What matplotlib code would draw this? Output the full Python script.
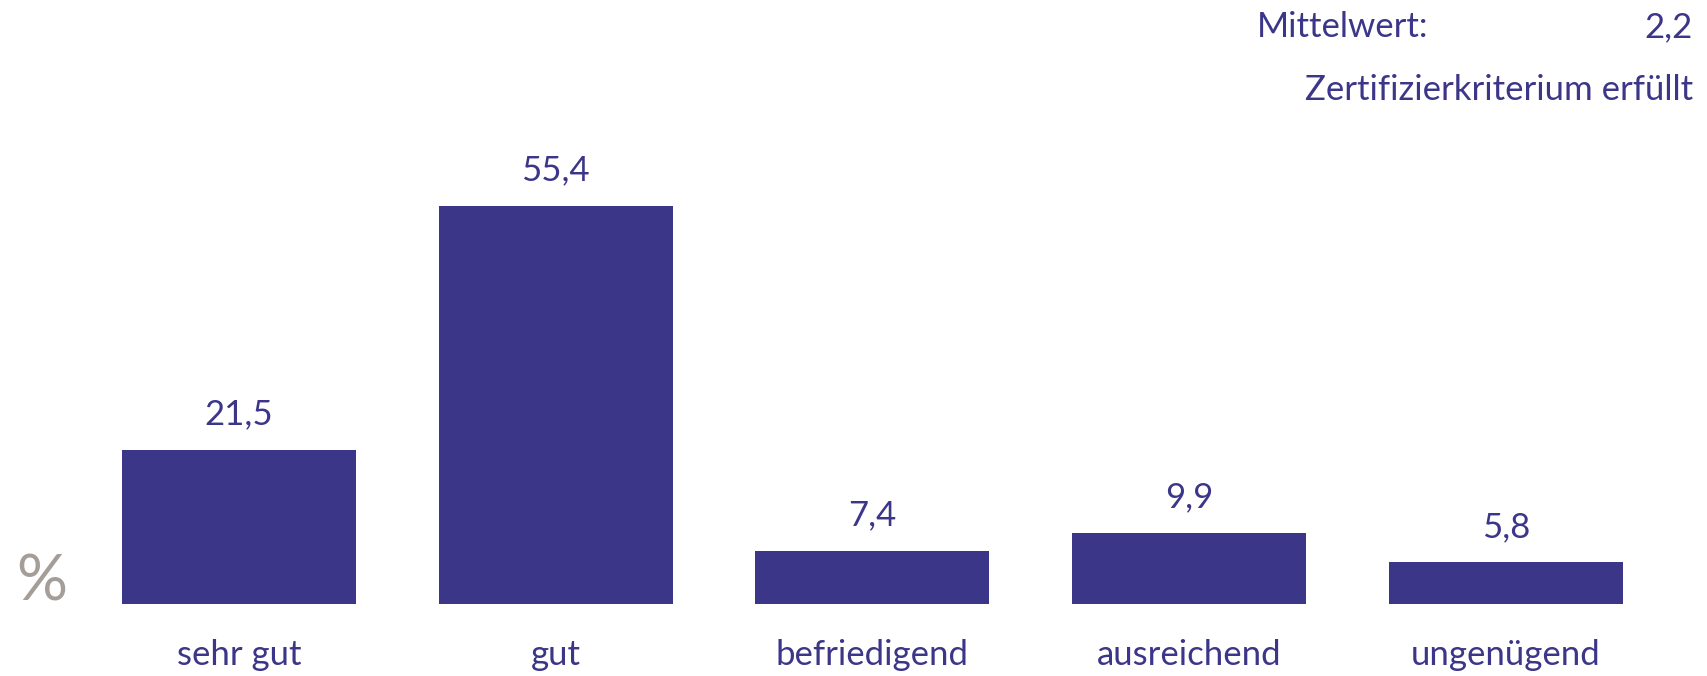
import matplotlib
matplotlib.use('Agg')
import matplotlib.pyplot as plt

kategorien = ['sehr gut', 'gut', 'befriedigend', 'ausreichend', 'ungenügend']
werte = [21.5, 55.4, 7.4, 9.9, 5.8]
mittelwert = '2,2'
kriterium = 'Zertifizierkriterium erfüllt'

lila = '#3c3689'
grau = '#a59e98'

plt.rcParams['font.family'] = ['Lato', 'DejaVu Sans']

fig = plt.figure(figsize=(17.07, 6.76), dpi=100)
ax = fig.add_axes([0.0472, 0.1065, 0.9277, 0.6376])

x = range(len(werte))
ax.bar(x, werte, width=0.739, color=lila)
for xi, w in zip(x, werte):
    ax.annotate(f'{w:.1f}'.replace('.', ','), (xi, w), xytext=(0, 14),
                textcoords='offset points', ha='center', va='bottom',
                fontsize=25, color=lila)

ax.set_xlim(-0.5, len(werte) - 0.5)
ax.set_ylim(0, 60)
ax.set_xticks(list(x))
ax.set_xticklabels(kategorien, fontsize=25, color=lila)
ax.tick_params(axis='x', length=0, pad=25)
ax.set_yticks([])
for s in ax.spines.values():
    s.set_visible(False)

fig.text(0.0094, 0.095, '%', fontsize=46, color=grau, ha='left', va='bottom')
fig.text(0.7364, 0.96, 'Mittelwert:', fontsize=25, color=lila, ha='left', va='center')
fig.text(0.9918, 0.96, mittelwert, fontsize=25, color=lila, ha='right', va='center')
fig.text(0.9918, 0.867, kriterium, fontsize=25, color=lila, ha='right', va='center')

fig.savefig('out.png', dpi=100)
